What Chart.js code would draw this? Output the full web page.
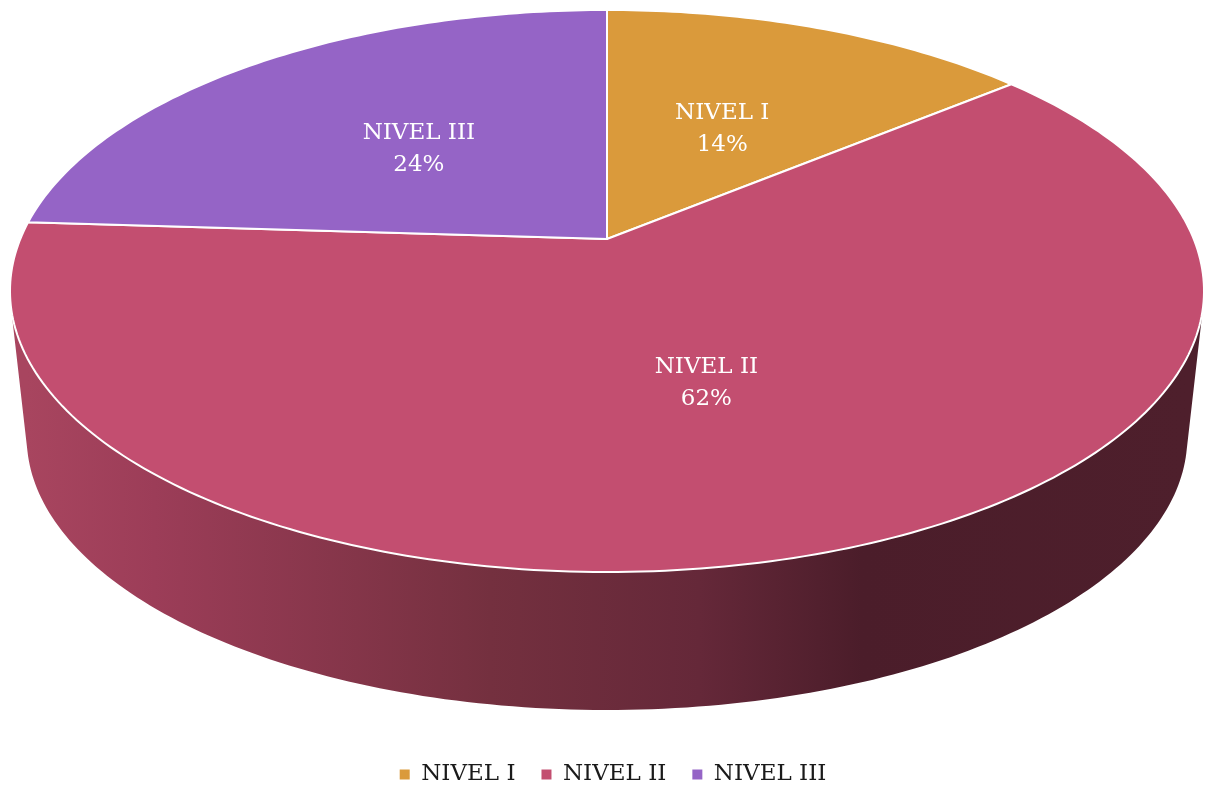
<!DOCTYPE html>
<html>
<head>
<meta charset="utf-8">
<script src="https://cdn.jsdelivr.net/npm/chart.js@4"></script>
<style>
  html, body { margin: 0; padding: 0; background: #fff; }
  canvas { display: block; }
</style>
</head>
<body>
<canvas id="chart" width="1206" height="787"></canvas>
<script>
const categories = ['NIVEL I', 'NIVEL II', 'NIVEL III'];
const values = [14, 62, 24];
const colors = ['#da9a3b', '#c34e70', '#9564c6'];

// perspective of the disc, worked out from the ellipse in the picture
const CX = 607, CY = 239, PERSP = 0.185, RX = 586.7, RY = 271.4;
// the lower rim is the same curve, a bit smaller and pushed down
const ELLIPSE_Y = 291, LOWER_Y = 437.4, LOWER_SX = 0.972, LOWER_SY = 0.97;
const LABEL_FONT = '23px "DejaVu Serif"';
const LEGEND_SHIFT = 9;

function project(angle, r) {
  const u = Math.cos(angle) * r, v = Math.sin(angle) * r;
  const d = 1 - PERSP * v;
  return { x: CX + RX * u / d, y: CY + RY * v / d };
}

function lower(p) {
  return { x: CX + LOWER_SX * (p.x - CX), y: LOWER_Y + LOWER_SY * (p.y - ELLIPSE_Y) };
}

// top face of each slice, angles still come from the pie controller
Chart.ArcElement.prototype.draw = function (ctx) {
  const steps = Math.ceil((this.endAngle - this.startAngle) * 60);
  ctx.save();
  ctx.beginPath();
  ctx.moveTo(CX, CY);
  for (let i = 0; i <= steps; i++) {
    const p = project(this.startAngle + (this.endAngle - this.startAngle) * i / steps, 1);
    ctx.lineTo(p.x, p.y);
  }
  ctx.closePath();
  ctx.fillStyle = this.options.backgroundColor;
  ctx.fill();
  ctx.strokeStyle = this.options.borderColor;
  ctx.lineWidth = this.options.borderWidth;
  ctx.lineJoin = 'round';
  ctx.stroke();
  ctx.restore();
};

const wallPlugin = {
  id: 'wall',
  beforeDatasetsDraw(chart) {
    const ctx = chart.ctx;
    const grad = ctx.createLinearGradient(27, 0, 1187, 0);
    grad.addColorStop(0, '#a8455f');
    grad.addColorStop(0.11, '#9c3d58');
    grad.addColorStop(0.4, '#74303f');
    grad.addColorStop(0.58, '#652839');
    grad.addColorStop(0.72, '#4b1d2a');
    grad.addColorStop(1, '#4e1f2c');
    ctx.save();
    ctx.fillStyle = grad;
    chart.getDatasetMeta(0).data.forEach(arc => {
      const steps = Math.ceil((arc.endAngle - arc.startAngle) * 60);
      ctx.beginPath();
      for (let i = 0; i < steps; i++) {
        const a0 = arc.startAngle + (arc.endAngle - arc.startAngle) * i / steps;
        const a1 = arc.startAngle + (arc.endAngle - arc.startAngle) * (i + 1) / steps;
        const p0 = project(a0, 1), p1 = project(a1, 1);
        let quad = [p0, p1, lower(p1), lower(p0)];
        // keep the winding the same or overlapping quads cancel out
        let area = 0;
        quad.forEach((p, k) => {
          const n = quad[(k + 1) % 4];
          area += p.x * n.y - n.x * p.y;
        });
        if (area < 0) quad = quad.reverse();
        ctx.moveTo(quad[0].x, quad[0].y);
        quad.slice(1).forEach(p => ctx.lineTo(p.x, p.y));
        ctx.closePath();
      }
      ctx.fill();
    });
    ctx.restore();
  }
};

const labelPlugin = {
  id: 'sliceLabels',
  afterDatasetsDraw(chart) {
    const ctx = chart.ctx;
    const total = values.reduce((a, b) => a + b, 0);
    ctx.save();
    ctx.font = LABEL_FONT;
    ctx.fillStyle = '#ffffff';
    ctx.textAlign = 'center';
    ctx.textBaseline = 'middle';
    chart.getDatasetMeta(0).data.forEach((arc, i) => {
      const p = project((arc.startAngle + arc.endAngle) / 2, 0.5);
      ctx.fillText(categories[i], p.x, p.y - 13);
      ctx.fillText(Math.round(values[i] / total * 100) + '%', p.x, p.y + 19);
    });
    ctx.restore();
  }
};

// the legend sits lower than the library would put it
const legendShift = {
  id: 'legendShift',
  afterLayout(chart) {
    chart.legend.top += LEGEND_SHIFT;
    chart.legend.bottom += LEGEND_SHIFT;
  }
};

new Chart(document.getElementById('chart'), {
  type: 'pie',
  data: {
    labels: categories,
    datasets: [{
      data: values,
      backgroundColor: colors,
      borderColor: '#ffffff',
      borderWidth: 2
    }]
  },
  options: {
    responsive: false,
    animation: false,
    layout: { padding: { left: 20 } },
    plugins: {
      tooltip: { enabled: false },
      legend: {
        position: 'bottom',
        labels: {
          boxWidth: 10,
          boxHeight: 10,
          padding: 26,
          color: '#1a1a1a',
          font: { family: '"DejaVu Serif"', size: 23 },
          generateLabels(chart) {
            return Chart.overrides.pie.plugins.legend.labels.generateLabels(chart)
              .map(item => ({ ...item, lineWidth: 0 }));
          }
        }
      }
    }
  },
  plugins: [wallPlugin, labelPlugin, legendShift]
});
</script>
</body>
</html>
